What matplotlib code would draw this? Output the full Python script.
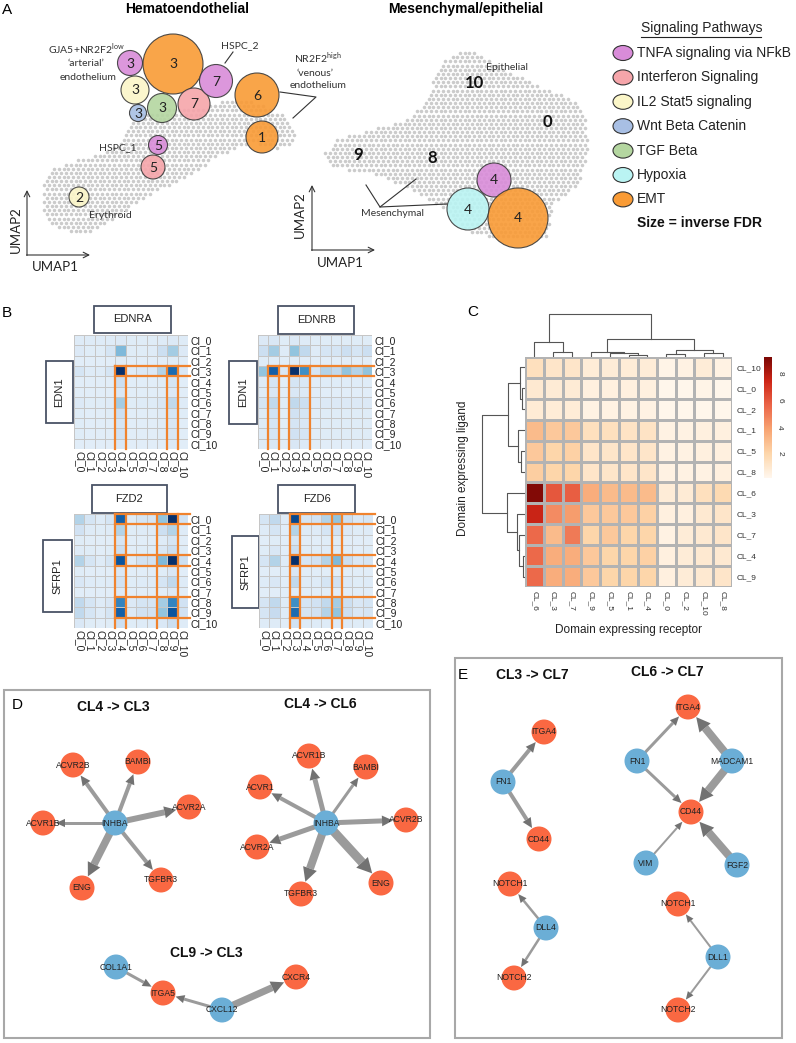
import numpy as np
import matplotlib
matplotlib.use('Agg')
import matplotlib.pyplot as plt
from matplotlib.patches import Circle, Ellipse, Rectangle, Polygon
from matplotlib.path import Path
from matplotlib.colors import LinearSegmentedColormap, Normalize
import matplotlib.cm as cm

plt.rcParams['font.family'] = ['Liberation Sans', 'DejaVu Sans']
plt.rcParams['mathtext.fontset'] = 'custom'
plt.rcParams['mathtext.rm'] = 'Lato'
CAL = ['Lato', 'DejaVu Sans']

# ---------------- data ----------------
PATHWAYS = ["TNFA signaling via NFkB", "Interferon Signaling", "IL2 Stat5 signaling",
            "Wnt Beta Catenin", "TGF Beta", "Hypoxia", "EMT"]
PATH_COLORS = ['#D98CD9', '#F6A5AA', '#FBF6C8', '#A8BFE4', '#B4D6A0', '#BAF4F3', '#F99B35']

# bubbles: pathway index, cluster label, centre (px), radius (inverse FDR)
BUB_PATH = [0, 6, 2, 3, 4, 1, 0, 6, 6, 0, 1, 2, 0, 5, 6]
BUB_CLUSTER = ['3', '3', '3', '3', '3', '7', '7', '6', '1', '5', '5', '2', '4', '4', '4']
BUB_X = [130, 173, 135, 138, 162, 194, 216, 257, 262, 158, 153, 79, 494, 468, 518]
BUB_Y = [63, 64, 90, 113, 108, 104, 81, 95, 137, 145, 167, 197, 180, 209, 218]
BUB_R = [12.5, 30, 14, 8.5, 14.5, 16, 16.5, 22, 16, 9.5, 12, 10, 17, 21, 30]

CLOUD_HEMATO = [(43, 187), (53, 167), (77, 160), (100, 154), (117, 144), (127, 127), (140, 113),
                (173, 108), (200, 108), (233, 98), (260, 104), (283, 115), (296, 133), (291, 145),
                (277, 149), (250, 142), (217, 157), (187, 177), (160, 190), (140, 200), (127, 210),
                (110, 222), (93, 231), (73, 234), (50, 224), (42, 207)]
CLOUD_MESEN = [(323, 157), (333, 140), (367, 131), (410, 118), (427, 98), (440, 66), (460, 49),
               (475, 52), (493, 64), (517, 75), (540, 86), (565, 95), (584, 110), (588, 150),
               (578, 185), (552, 205), (548, 236), (505, 239), (470, 234), (440, 205), (410, 190),
               (380, 175), (350, 170), (330, 167)]

ROW_LABELS_B = ['Cl_%d' % i for i in range(11)]
EDNRA = [[0.5, 0.5, 0.5, 0.5, 0.6, 0.4, 0.4, 0.4, 0.5, 0.6, 0.5],
         [0.6, 0.4, 0.4, 1.0, 4.0, 0.4, 0.4, 0.5, 1.5, 3.0, 0.6],
         [0.3, 0.3, 0.3, 0.3, 0.4, 0.3, 0.3, 0.3, 0.3, 0.4, 0.3],
         [1.0, 0.5, 0.5, 1.0, 10., 0.5, 0.7, 0.7, 2.5, 7.5, 0.8],
         [0.3, 0.3, 0.3, 0.3, 1.5, 0.3, 0.3, 0.3, 0.4, 1.0, 0.3],
         [0.3, 0.3, 0.3, 0.3, 0.8, 0.3, 0.3, 0.3, 0.3, 0.6, 0.3],
         [0.6, 0.4, 0.4, 0.5, 3.0, 0.4, 0.5, 0.5, 0.8, 2.0, 0.5],
         [0.4, 0.3, 0.3, 0.4, 1.5, 0.3, 0.3, 0.3, 0.5, 1.0, 0.4],
         [0.4, 0.3, 0.3, 0.3, 1.0, 0.3, 0.3, 0.3, 0.4, 0.8, 0.3],
         [0.4, 0.3, 0.3, 0.3, 1.2, 0.3, 0.3, 0.3, 0.4, 0.8, 0.3],
         [0.3, 0.3, 0.3, 0.3, 0.8, 0.3, 0.3, 0.3, 0.3, 0.6, 0.3]]
EDNRB = [[0.6, 0.8, 0.4, 0.6, 0.5, 0.4, 0.4, 0.4, 0.4, 0.4, 0.4],
         [1.5, 3.0, 0.5, 3.5, 2.0, 0.5, 1.0, 1.0, 1.5, 1.0, 1.5],
         [0.4, 0.4, 0.3, 0.4, 0.3, 0.3, 0.3, 0.3, 0.3, 0.3, 0.3],
         [3.5, 8.0, 0.8, 10., 6.0, 1.0, 2.5, 2.0, 3.5, 2.5, 3.5],
         [0.5, 1.0, 0.3, 1.0, 0.8, 0.3, 0.4, 0.4, 0.4, 0.4, 0.4],
         [0.4, 0.8, 0.3, 0.8, 0.6, 0.3, 0.3, 0.3, 0.3, 0.3, 0.3],
         [1.0, 2.0, 0.4, 2.0, 1.5, 0.5, 0.6, 0.6, 0.6, 0.6, 0.6],
         [0.5, 1.2, 0.3, 1.2, 1.0, 0.3, 0.4, 0.4, 0.4, 0.4, 0.4],
         [0.5, 1.0, 0.3, 1.0, 0.8, 0.3, 0.4, 0.4, 0.4, 0.4, 0.4],
         [0.5, 1.0, 0.3, 1.2, 1.0, 0.3, 0.4, 0.4, 0.4, 0.4, 0.4],
         [0.4, 0.8, 0.3, 0.8, 0.6, 0.3, 0.3, 0.3, 0.3, 0.3, 0.3]]
FZD2 = [[2.5, 1.0, 0.5, 1.0, 8.0, 0.5, 1.0, 1.0, 3.5, 10., 1.2],
        [1.2, 0.5, 0.4, 0.5, 2.5, 0.4, 0.5, 0.5, 1.5, 2.5, 0.5],
        [0.4, 0.3, 0.3, 0.3, 1.0, 0.3, 0.3, 0.3, 0.5, 1.0, 0.3],
        [0.5, 0.4, 0.3, 0.4, 1.5, 0.3, 0.4, 0.4, 0.8, 1.5, 0.4],
        [2.5, 1.0, 0.5, 1.0, 8.5, 0.5, 1.2, 1.2, 4.0, 10., 1.5],
        [0.4, 0.3, 0.3, 0.3, 0.8, 0.3, 0.3, 0.3, 0.4, 0.8, 0.3],
        [0.8, 0.5, 0.4, 0.5, 1.2, 0.4, 0.5, 0.5, 1.0, 2.0, 0.5],
        [0.3, 0.3, 0.3, 0.3, 0.6, 0.3, 0.3, 0.3, 0.3, 0.6, 0.3],
        [2.0, 1.0, 0.5, 0.8, 6.5, 0.6, 1.0, 1.0, 3.0, 6.5, 1.2],
        [2.0, 1.0, 0.5, 1.0, 8.0, 0.6, 1.2, 1.2, 3.5, 8.5, 1.2],
        [0.7, 0.4, 0.3, 0.4, 1.5, 0.4, 0.5, 0.5, 0.7, 1.5, 0.5]]
FZD6 = [[1.0, 2.0, 0.5, 9.0, 1.0, 1.2, 2.5, 3.5, 1.5, 0.8, 1.0],
        [0.5, 1.0, 0.3, 2.5, 0.5, 0.5, 1.0, 1.2, 0.6, 0.4, 0.5],
        [0.3, 0.4, 0.3, 1.0, 0.3, 0.3, 0.4, 0.4, 0.3, 0.3, 0.3],
        [0.4, 0.8, 0.3, 1.5, 0.4, 0.4, 0.5, 0.5, 0.4, 0.3, 0.4],
        [1.0, 2.5, 0.5, 10., 1.0, 1.2, 2.5, 4.0, 1.5, 0.8, 1.0],
        [0.3, 0.3, 0.3, 0.8, 0.3, 0.3, 0.3, 0.3, 0.3, 0.3, 0.3],
        [0.5, 0.8, 0.3, 2.0, 0.5, 0.5, 1.0, 1.2, 0.6, 0.4, 0.5],
        [0.3, 0.3, 0.3, 0.5, 0.3, 0.3, 0.3, 0.3, 0.3, 0.3, 0.3],
        [1.0, 2.0, 0.5, 6.0, 1.0, 1.2, 2.0, 3.0, 1.5, 0.8, 1.0],
        [1.0, 1.8, 0.5, 7.5, 1.0, 1.2, 2.5, 3.5, 1.5, 0.8, 1.0],
        [0.5, 0.5, 0.3, 1.2, 0.5, 0.5, 0.5, 0.5, 0.5, 0.4, 0.5]]
# highlighted (row blocks, col blocks)
HL_EDNRA = ([(3, 3)], [(4, 4), (9, 9)])
HL_EDNRB = ([(3, 3)], [(1, 1), (3, 4)])
HL_FZD2 = ([(0, 0), (4, 4), (8, 9)], [(4, 4), (8, 9)])
HL_FZD6 = ([(0, 0), (4, 4), (8, 9)], [(3, 3), (7, 7)])

HM_ROWS = ['CL_10', 'CL_0', 'CL_2', 'CL_1', 'CL_5', 'CL_8', 'CL_6', 'CL_3', 'CL_7', 'CL_4', 'CL_9']
HM_COLS = ['CL_6', 'CL_3', 'CL_7', 'CL_9', 'CL_5', 'CL_1', 'CL_4', 'CL_0', 'CL_2', 'CL_10', 'CL_8']
HM_VALUES = [[1.5, 1.2, 1.2, 0.8, 0.8, 0.8, 0.8, 0.4, 0.5, 0.8, 0.5],
             [1.0, 0.9, 0.9, 0.6, 0.6, 0.6, 0.6, 0.3, 0.3, 0.4, 0.3],
             [0.9, 0.8, 0.8, 0.5, 0.5, 0.5, 0.5, 0.3, 0.3, 0.3, 0.3],
             [3.0, 2.5, 2.5, 1.5, 1.5, 1.3, 1.3, 0.5, 0.5, 0.6, 0.6],
             [2.5, 2.0, 2.2, 1.2, 1.2, 1.2, 1.2, 0.5, 0.5, 0.6, 0.6],
             [2.3, 2.0, 2.0, 1.2, 1.2, 1.2, 1.2, 0.5, 0.5, 0.5, 0.6],
             [9.0, 6.0, 5.8, 3.5, 3.0, 3.0, 3.0, 0.8, 0.9, 1.5, 1.8],
             [7.5, 4.5, 4.0, 2.5, 2.5, 2.5, 2.2, 0.6, 0.6, 1.0, 1.2],
             [5.5, 3.0, 5.0, 2.0, 2.5, 2.0, 2.0, 0.5, 0.8, 1.0, 1.2],
             [5.5, 3.5, 3.5, 2.5, 2.0, 2.0, 2.2, 0.6, 0.8, 1.0, 1.0],
             [5.5, 3.5, 3.5, 2.5, 2.0, 2.0, 2.0, 0.6, 0.8, 1.0, 1.2]]
# dendrograms: (left, right, height) with leaves = display index
COL_TREE = ((0, (1, 2, 5.0), 15.0), ((3, (4, (5, 6, 2.3), 4.0), 5.0), ((7, 8, 3.3), (9, 10, 4.0), 7.3), 17.7), 43.3)
ROW_TREE = (((0, (1, 2, 2.7), 5.0), (3, (4, 5, 4.0), 6.7), 16.7), (6, (7, (8, (9, 10, 1.7), 6.0), 8.3), 17.7), 43.3)

# networks: nodes (label, x, y, kind L=ligand R=receptor), edges (src, tgt, width)
NET_D1_NODES = [('INHBA', 115, 823, 'L'), ('ACVR2B', 73, 765, 'R'), ('BAMBI', 138, 762, 'R'),
                ('ACVR2A', 189, 807, 'R'), ('ACVR1B', 43, 823, 'R'), ('ENG', 82, 888, 'R'),
                ('TGFBR3', 161, 880, 'R')]
NET_D1_EDGES = [(0, 1, 4), (0, 2, 4), (0, 3, 6), (0, 4, 3), (0, 5, 7.5), (0, 6, 4)]
NET_D2_NODES = [('INHBA', 326, 823, 'L'), ('ACVR1B', 309, 756, 'R'), ('BAMBI', 366, 767, 'R'),
                ('ACVR1', 260, 787, 'R'), ('ACVR2B', 406, 820, 'R'), ('ACVR2A', 257, 847, 'R'),
                ('TGFBR3', 301, 894, 'R'), ('ENG', 381, 883, 'R')]
NET_D2_EDGES = [(0, 1, 5), (0, 2, 3), (0, 3, 4), (0, 4, 5), (0, 5, 5), (0, 6, 8), (0, 7, 9)]
NET_D3_NODES = [('COL1A1', 116, 967, 'L'), ('ITGA5', 163, 993, 'R'), ('CXCL12', 222, 1010, 'L'),
                ('CXCR4', 296, 977, 'R')]
NET_D3_EDGES = [(0, 1, 3), (2, 1, 3), (2, 3, 7)]
NET_E1_NODES = [('FN1', 503, 782, 'L'), ('ITGA4', 544, 732, 'R'), ('CD44', 539, 839, 'R')]
NET_E1_EDGES = [(0, 1, 4), (0, 2, 4)]
NET_E2_NODES = [('ITGA4', 688, 707, 'R'), ('FN1', 637, 761, 'L'), ('MADCAM1', 732, 761, 'L'),
                ('CD44', 691, 812, 'R'), ('VIM', 646, 863, 'L'), ('FGF2', 737, 865, 'L')]
NET_E2_EDGES = [(1, 0, 3), (1, 3, 3), (2, 0, 8), (2, 3, 8), (4, 3, 2), (5, 3, 8)]
NET_E3_NODES = [('DLL4', 546, 928, 'L'), ('NOTCH1', 510, 884, 'R'), ('NOTCH2', 514, 978, 'R')]
NET_E3_EDGES = [(0, 1, 2.5), (0, 2, 2.5)]
NET_E4_NODES = [('DLL1', 718, 957, 'L'), ('NOTCH1', 678, 904, 'R'), ('NOTCH2', 678, 1010, 'R')]
NET_E4_EDGES = [(0, 1, 2), (0, 2, 2)]

# ---------------- figure ----------------
W, H = 796, 1043
fig = plt.figure(figsize=(W / 100, H / 100), dpi=100)
ax = fig.add_axes([0, 0, 1, 1])
ax.set_xlim(0, W)
ax.set_ylim(H, 0)
ax.axis('off')


def px_axes(x0, y0, x1, y1):
    return fig.add_axes([x0 / W, 1 - y1 / H, (x1 - x0) / W, (y1 - y0) / H])


# ---- Panel A ----
def cloud(poly, step=4.8):
    path = Path(poly)
    xs, ys = zip(*poly)
    pts = []
    j = 0
    y = min(ys)
    while y <= max(ys):
        off = (step / 2) * (j % 2)
        xr = np.arange(min(xs) + off, max(xs), step)
        pts.extend([(xx, y) for xx in xr])
        y += step * 0.866
        j += 1
    pts = np.array(pts)
    pts = pts[path.contains_points(pts)]
    ax.scatter(pts[:, 0], pts[:, 1], s=6.5, color='#CBCBCB', linewidths=0, zorder=1)


cloud(CLOUD_HEMATO)
cloud(CLOUD_MESEN)

for p, lab, x, y, r in zip(BUB_PATH, BUB_CLUSTER, BUB_X, BUB_Y, BUB_R):
    ax.add_patch(Circle((x, y), r, facecolor=PATH_COLORS[p], edgecolor='#3a3a3a', lw=0.8,
                        alpha=0.9, zorder=3))
    ax.text(x, y + 0.5, lab, fontsize=10, family=CAL, ha='center', va='center', color='#222', zorder=4)

ax.text(7, 10, 'A', fontsize=11, va='center', ha='center')
ax.text(187, 9, 'Hematoendothelial', fontsize=10, weight='bold', ha='center', va='center')
ax.text(466, 9, 'Mesenchymal/epithelial', fontsize=10, weight='bold', ha='center', va='center')

lab_kw = dict(fontsize=7.5, family=CAL, color='#333', ha='center', va='center')
ax.text(86, 49, r'GJA5+NR2F2$^{\mathrm{low}}$', **lab_kw)
ax.text(86, 64, '\u2018arterial\u2019', **lab_kw)
ax.text(88, 77, 'endothelium', **lab_kw)
ax.text(240, 46, 'HSPC_2', **lab_kw)
ax.plot([233, 225], [52, 63], color='#333', lw=0.8)
ax.text(318, 58, r'NR2F2$^{\mathrm{high}}$', **lab_kw)
ax.text(315, 73, '\u2018venous\u2019', **lab_kw)
ax.text(318, 86, 'endothelium', **lab_kw)
ax.plot([280, 316, 293], [92, 97, 118], color='#333', lw=0.8)
ax.text(118, 148, 'HSPC_1', **lab_kw)
ax.text(110, 216, 'Erythroid', **lab_kw)
ax.text(507, 67, 'Epithelial', **lab_kw)
ax.text(393, 213, 'Mesenchymal', **lab_kw)
ax.plot([366, 380, 416], [185, 207, 179], color='#333', lw=0.8)
ax.plot([380, 447], [207, 204], color='#333', lw=0.8)
for t, x, y in [('10', 474, 83), ('0', 547, 122), ('9', 358, 155), ('8', 432, 158)]:
    ax.text(x, y, t, fontsize=12, weight='bold', family=CAL, ha='center', va='center', color='#111')

for ox, oy, lx in [(27, 255, 90), (312, 250, 375)]:
    ax.annotate('', xy=(ox, oy - 65), xytext=(ox, oy + 0.5),
                arrowprops=dict(arrowstyle='->', lw=0.8, color='#333', shrinkA=0, shrinkB=0))
    ax.annotate('', xy=(lx, oy), xytext=(ox - 0.5, oy),
                arrowprops=dict(arrowstyle='->', lw=0.8, color='#333', shrinkA=0, shrinkB=0))
ax.text(16, 230, 'UMAP2', rotation=90, fontsize=9.5, family=CAL, ha='center', va='center', color='#222')
ax.text(55, 267, 'UMAP1', fontsize=9.5, family=CAL, ha='center', va='center', color='#222')
ax.text(300, 215, 'UMAP2', rotation=90, fontsize=9.5, family=CAL, ha='center', va='center', color='#222')
ax.text(340, 263, 'UMAP1', fontsize=9.5, family=CAL, ha='center', va='center', color='#222')

# legend
ax.text(641, 28, 'Signaling Pathways', fontsize=10, ha='left', va='center', color='#222')
ax.plot([641, 761], [36.5, 36.5], color='#222', lw=0.8)
for i, (lab, c) in enumerate(zip(PATHWAYS, PATH_COLORS)):
    y = 53 + i * 24.4
    ax.add_patch(Ellipse((623, y), 20, 15, facecolor=c, edgecolor='#333', lw=0.8))
    ax.text(637, y, lab, fontsize=10, ha='left', va='center', color='#222')
ax.text(637, 223, 'Size = inverse FDR', fontsize=10, weight='bold', ha='left', va='center', color='#111')

# ---- Panel B ----
ax.text(7, 313, 'B', fontsize=11, ha='center', va='center')
blue_norm = Normalize(-0.9, 10)


def matrix(vals, hl, rect):
    a = px_axes(*rect)
    a.pcolormesh(np.array(vals), cmap='Blues', norm=blue_norm, edgecolors='#C6C6C6', linewidth=0.7)
    a.set_xlim(0, 11)
    a.set_ylim(11, 0)
    for s in a.spines.values():
        s.set_visible(False)
    a.yaxis.tick_right()
    a.set_yticks(np.arange(11) + 0.5)
    a.set_yticklabels(ROW_LABELS_B, fontsize=7.5)
    a.set_xticks(np.arange(11) + 0.5)
    a.set_xticklabels(ROW_LABELS_B, fontsize=7.5, rotation=270)
    a.tick_params(length=0, pad=1.5, colors='#222')
    rows, cols = hl
    c0 = min(c[0] for c in cols)
    r0 = min(r[0] for r in rows)
    oc = dict(color='#F0832E', lw=1.6, clip_on=False)
    for ra, rb in rows:
        a.plot([c0, 11.15], [ra, ra], **oc)
        a.plot([c0, 11.15], [rb + 1, rb + 1], **oc)
    for ca, cb in cols:
        a.plot([ca, ca], [r0, 11], **oc)
        a.plot([cb + 1, cb + 1], [r0, 11], **oc)


matrix(EDNRA, HL_EDNRA, (74, 335, 188, 449))
matrix(EDNRB, HL_EDNRB, (258, 335, 372, 449))
matrix(FZD2, HL_FZD2, (74, 514, 188, 628))
matrix(FZD6, HL_FZD6, (259, 514, 373, 628))

box_kw = dict(facecolor='white', edgecolor='#4A5366', lw=1.3)
for name, x0, y0, x1, y1, rot in [('EDNRA', 94, 306, 171, 333, 0), ('EDNRB', 278, 306, 354, 334, 0),
                                  ('EDN1', 46, 361, 73, 423, 90), ('EDN1', 229, 361, 257, 424, 90),
                                  ('FZD2', 92, 485, 167, 513, 0), ('FZD6', 278, 485, 355, 513, 0),
                                  ('SFRP1', 43, 540, 72, 612, 90), ('SFRP1', 232, 536, 259, 608, 90)]:
    ax.add_patch(Rectangle((x0, y0), x1 - x0, y1 - y0, **box_kw))
    ax.text((x0 + x1) / 2, (y0 + y1) / 2, name, rotation=rot, fontsize=8, ha='center', va='center',
            color='#222')

# ---- Panel C ----
ax.text(473, 312, 'C', fontsize=11, ha='center', va='center')
hm_cmap = LinearSegmentedColormap.from_list('hm', ['#FFF7EE', '#FDD6AA', '#F8A472', '#EB6548',
                                                   '#CE2617', '#7A0704'])
hm_norm = Normalize(0.2, 9.2)
ah = px_axes(525, 357, 732, 587)
ah.pcolormesh(np.array(HM_VALUES), cmap=hm_cmap, norm=hm_norm, edgecolors='#B3B3B3', linewidth=0.9)
ah.set_xlim(0, 11)
ah.set_ylim(11, 0)
for s in ah.spines.values():
    s.set_visible(False)
ah.yaxis.tick_right()
ah.set_yticks(np.arange(11) + 0.5)
ah.set_yticklabels(HM_ROWS, fontsize=6)
ah.set_xticks(np.arange(11) + 0.5)
ah.set_xticklabels(HM_COLS, fontsize=6, rotation=270)
ah.tick_params(length=0, pad=3, colors='#333')
ah.set_xlabel('Domain expressing receptor', fontsize=8.5, labelpad=6, color='#222')
ax.text(463, 468, 'Domain expressing ligand', rotation=90, fontsize=8.5, ha='center', va='center',
        color='#222')


def dendro(a, node, orient):
    if isinstance(node, int):
        return node + 0.5, 0.0
    l, r, h = node
    pl, hl_ = dendro(a, l, orient)
    pr, hr = dendro(a, r, orient)
    if orient == 'top':
        a.plot([pl, pl, pr, pr], [hl_, h, h, hr], color='#555', lw=0.8)
    else:
        a.plot([hl_, h, h, hr], [pl, pl, pr, pr], color='#555', lw=0.8)
    return (pl + pr) / 2, h


ad_top = px_axes(525, 312, 732, 357)
dendro(ad_top, COL_TREE, 'top')
ad_top.set_xlim(0, 11)
ad_top.set_ylim(0, 45)
ad_top.axis('off')
ad_left = px_axes(481, 357, 525, 587)
dendro(ad_left, ROW_TREE, 'left')
ad_left.set_ylim(11, 0)
ad_left.set_xlim(44, 0)
ad_left.axis('off')

acb = px_axes(764, 357, 772, 478)
cb = fig.colorbar(cm.ScalarMappable(norm=hm_norm, cmap=hm_cmap), cax=acb, ticks=[2, 4, 6, 8])
cb.outline.set_visible(False)
acb.tick_params(length=0, labelsize=6, pad=3, colors='#333')
for t in acb.get_yticklabels():
    t.set_rotation(270)
    t.set_va('center')

# ---- Panels D, E ----
ax.add_patch(Rectangle((4, 690), 426, 348, facecolor='none', edgecolor='#A8A8A8', lw=1.5))
ax.add_patch(Rectangle((455, 658), 327, 380, facecolor='none', edgecolor='#A8A8A8', lw=1.5))
ax.text(17, 705, 'D', fontsize=11, ha='center', va='center')
ax.text(463, 675, 'E', fontsize=11, ha='center', va='center')
tkw = dict(fontsize=10, weight='bold', ha='center', va='center', color='#111')
ax.text(113, 707, 'CL4 -> CL3', **tkw)
ax.text(320, 704, 'CL4 -> CL6', **tkw)
ax.text(206, 953, 'CL9 -> CL3', **tkw)
ax.text(532, 675, 'CL3 -> CL7', **tkw)
ax.text(667, 672, 'CL6 -> CL7', **tkw)

NODE_R = 12.5
NODE_COL = {'L': '#6BAED6', 'R': '#FA6842'}


def network(nodes, edges):
    for s, t, w in edges:
        _, x0, y0, _ = nodes[s]
        _, x1, y1, _ = nodes[t]
        p0 = np.array([x0, y0], float)
        p1 = np.array([x1, y1], float)
        u = (p1 - p0) / np.hypot(*(p1 - p0))
        n = np.array([-u[1], u[0]])
        tip = p1 - u * (NODE_R + 0.5)
        hl_ = 6 + 1.0 * w
        hw = 4.5 + 1.25 * w
        base = tip - u * hl_
        shaft = [p0 + n * w / 2, base + n * w / 2, base - n * w / 2, p0 - n * w / 2]
        ax.add_patch(Polygon(shaft, closed=True, facecolor='#9B9B9B', edgecolor='none', zorder=2))
        head = [tip, base + n * hw / 2, base - n * hw / 2]
        ax.add_patch(Polygon(head, closed=True, facecolor='#727272', edgecolor='none', zorder=2))
    for lab, x, y, k in nodes:
        ax.add_patch(Circle((x, y), NODE_R, facecolor=NODE_COL[k], edgecolor='none', zorder=3))
        ax.text(x, y, lab, fontsize=6.2, ha='center', va='center', color='#222', zorder=4)


for nn, ee in [(NET_D1_NODES, NET_D1_EDGES), (NET_D2_NODES, NET_D2_EDGES), (NET_D3_NODES, NET_D3_EDGES),
               (NET_E1_NODES, NET_E1_EDGES), (NET_E2_NODES, NET_E2_EDGES), (NET_E3_NODES, NET_E3_EDGES),
               (NET_E4_NODES, NET_E4_EDGES)]:
    network(nn, ee)

fig.savefig('out.png', dpi=100, facecolor='white')
